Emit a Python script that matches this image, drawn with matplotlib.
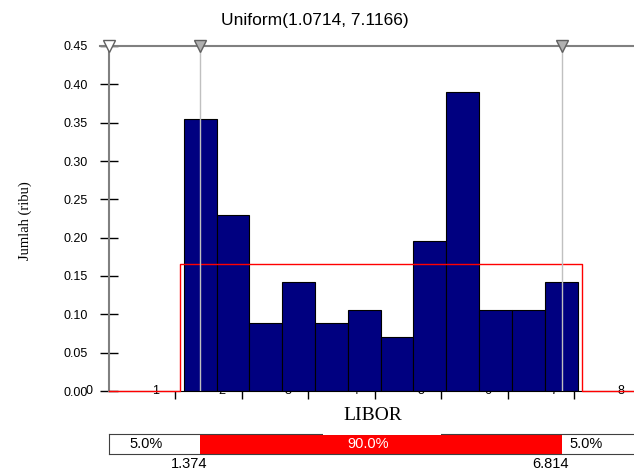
import matplotlib.pyplot as plt
import numpy as np
from matplotlib.patches import Rectangle

# histogram (density) of LIBOR samples
bin_left = 1.125
bin_right = 7.05
density = [0.355, 0.230, 0.089, 0.142, 0.089, 0.106, 0.071, 0.195, 0.390, 0.106, 0.106, 0.142]

# fitted uniform distribution
dist_a = 1.0714
dist_b = 7.1166

# 5% / 95% markers
p_low = 1.374
p_high = 6.814
pct_labels = ['5.0%', '90.0%', '5.0%']

xtick_labels = ['0', '1', '2', '3', '4', '5', '6', '7', '8']
ytick_vals = [0.00, 0.05, 0.10, 0.15, 0.20, 0.25, 0.30, 0.35, 0.40, 0.45]

x_max = 7.9
W, H = 634, 474

fig = plt.figure(figsize=(W / 100, H / 100), dpi=100)
ax = fig.add_axes([109 / W, 1 - 391 / H, 1 - 109 / W, (391 - 46) / H])

edges = np.linspace(bin_left, bin_right, len(density) + 1)
ax.bar(edges[:-1], density, width=np.diff(edges), align='edge',
       color='#000080', edgecolor='black', linewidth=0.8, zorder=2)

h = 1 / (dist_b - dist_a)
ax.plot([0, dist_a, dist_a, dist_b, dist_b, x_max], [0, 0, h, h, 0, 0],
        color='red', lw=1, zorder=3, clip_on=False)

ax.vlines([p_low, p_high], 0, 0.45, color='#C0C0C0', lw=1, zorder=4)

ax.set_xlim(0, x_max)
ax.set_ylim(0, 0.45)

ax.set_yticks(ytick_vals)
ax.set_yticklabels(['%.2f' % v for v in ytick_vals], family='Liberation Sans')
ax.tick_params(axis='y', direction='inout', length=13, width=1, color='black',
               labelsize=9, pad=9)
ax.set_xticks(range(1, 8))
ax.set_xticklabels([])
ax.tick_params(axis='x', direction='out', length=6, width=1, color='black')

# x labels sit left of their ticks, under the bars
for i, lab in enumerate(xtick_labels):
    ax.text(i - 0.3, 0, lab, ha='center', va='center', fontsize=9,
            family='Liberation Sans', zorder=1, clip_on=False)

for s in ['top', 'right']:
    ax.spines[s].set_visible(False)
ax.spines['left'].set_color('#808080')
ax.spines['left'].set_linewidth(1.5)
ax.spines['bottom'].set_color('black')

ax.plot([-0.13, x_max], [0.45, 0.45], color='#808080', lw=1.5, clip_on=False, zorder=5)
ax.plot([0], [0.45], marker='v', ms=9, mfc='white', mec='#606060', clip_on=False, zorder=6)
ax.plot([p_low, p_high], [0.45, 0.45], ls='none', marker='v', ms=9,
        mfc='#B0B0B0', mec='#606060', clip_on=False, zorder=6)

fig.text(0.497, 1 - 20 / H, 'Uniform(1.0714, 7.1166)', ha='center', va='center',
         fontsize=12.5, family='Liberation Sans')
fig.text(25 / W, 1 - 221 / H, 'Jumlah (ribu)', rotation=90, ha='center', va='center',
         fontsize=10.5, family='Liberation Serif')

# bottom percentile bar
bax = fig.add_axes([109 / W, 1 - 454 / H, 1 - 109 / W, 20 / H])
bax.set_xlim(0, x_max)
bax.set_ylim(0, 1)
bax.axvspan(p_low, p_high, color='red', lw=0)
bax.set_xticks([])
bax.set_yticks([])
bax.spines['right'].set_visible(False)
for s in ['top', 'bottom', 'left']:
    bax.spines[s].set_color('#404040')
bax.text(0.56, 0.5, pct_labels[0], ha='center', va='center', fontsize=10.5, family='Liberation Sans')
bax.text(3.9, 0.5, pct_labels[1], ha='center', va='center', fontsize=10.5, color='white',
         family='Liberation Sans')
bax.text(7.18, 0.5, pct_labels[2], ha='center', va='center', fontsize=10.5, family='Liberation Sans')
bax.text(p_low - 0.17, -0.5, '%.3f' % p_low, ha='center', va='center', fontsize=10.5,
         family='Liberation Sans', clip_on=False)
bax.text(p_high - 0.17, -0.5, '%.3f' % p_high, ha='center', va='center', fontsize=10.5,
         family='Liberation Sans', clip_on=False)

# white box behind the axis title, cutting the bar's top border
fig.add_artist(Rectangle((323 / W, (H - 434.6) / H), (441 - 323) / W, 30 / H,
                         transform=fig.transFigure, facecolor='white',
                         edgecolor='none', zorder=2.5))
fig.text(373 / W, 1 - 415 / H, 'LIBOR', ha='center', va='center', fontsize=14,
         family='Liberation Serif', zorder=3)

fig.savefig('out.png', dpi=100)
